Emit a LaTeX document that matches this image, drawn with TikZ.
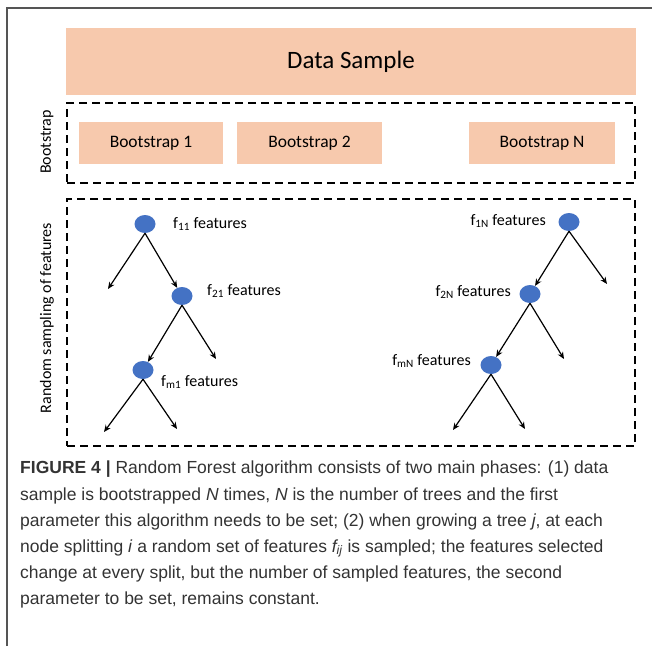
\documentclass[tikz,border=0pt]{standalone}
\usepackage{fontspec}
\setmainfont{Carlito}
\newfontfamily\capfont{Liberation Sans}
\usetikzlibrary{arrows.meta,shapes.geometric}
\definecolor{peach}{HTML}{F7C9AD}
\definecolor{nodeblue}{HTML}{4472C4}
\definecolor{framegray}{HTML}{555555}
\definecolor{captext}{HTML}{333333}
\tikzset{
  peachbox/.style={fill=peach, draw=none, inner sep=0pt},
  phasebox/.style={draw=black, line width=1.8pt, dash pattern=on 8pt off 5pt, inner sep=0pt},
  treenode/.style={ellipse, fill=nodeblue, draw=none, minimum width=21pt, minimum height=18pt, inner sep=0pt},
  branch/.style={line width=1.2pt, -{Stealth[length=7pt,width=6pt]}},
  featlabel/.style={font=\fontsize{16}{18}\selectfont, inner sep=0pt},
  sidelabel/.style={font=\fontsize{16}{18}\selectfont, rotate=90, inner sep=0pt},
  bootlabel/.style={font=\fontsize{17.5}{20}\selectfont},
  capline/.style={anchor=base west, inner sep=0pt, text=captext, font=\capfont\fontsize{17.5}{20}\selectfont},
}
\begin{document}
\begin{tikzpicture}[x=1pt, y=-1pt]
\useasboundingbox (0,0) rectangle (652,646);

% outer frame (top and left rules)
\draw[framegray, line width=1.5pt] (7,646) -- (7,8) -- (652,8);

% data sample
\node[peachbox, minimum width=570pt, minimum height=67pt, font=\fontsize{25}{29}\selectfont]
  (data) at (351,61.5) {Data Sample};

% bootstrap phase
\node[phasebox, minimum width=568pt, minimum height=80pt] (bootframe) at (351,143) {};
\node[sidelabel] (bootlbl) at (47,142) {Bootstrap};
\node[peachbox, bootlabel, minimum width=144pt, minimum height=42pt] (b1) at (151,143) {Bootstrap 1};
\node[peachbox, bootlabel, minimum width=145pt, minimum height=42pt] (b2) at (309.5,143) {Bootstrap 2};
\node[peachbox, bootlabel, minimum width=146pt, minimum height=42pt] (bN) at (542,143) {Bootstrap N};

% feature sampling phase
\node[phasebox, minimum width=568pt, minimum height=247pt] (randframe) at (351,322.5) {};
\node[sidelabel] (randlbl) at (47,318) {Random sampling of features};

% first tree
\node[treenode] (n11) at (145,224) {};
\node[treenode] (n21) at (182,296) {};
\node[treenode] (nm1) at (143,370) {};
\node[featlabel, anchor=west] (t11) at (173,224) {f\textsubscript{11} features};
\node[featlabel, anchor=west] (t21) at (207,291) {f\textsubscript{21} features};
\node[featlabel, anchor=west] (tm1) at (161,382) {f\textsubscript{m1} features};
\coordinate (l11) at (108,289);
\coordinate (r21) at (216,359);
\coordinate (lm1) at (104,432);
\coordinate (rm1) at (177,429);
\draw[branch] (n11.south) -- (l11);
\draw[branch] (n11.south) -- (n21);
\draw[branch] (n21.south) -- (nm1);
\draw[branch] (n21.south) -- (r21);
\draw[branch] (nm1.south) -- (lm1);
\draw[branch] (nm1.south) -- (rm1);

% last tree
\node[treenode] (n1N) at (569,222) {};
\node[treenode] (n2N) at (530,294) {};
\node[treenode] (nmN) at (491,365) {};
\node[featlabel, anchor=east] (t1N) at (546,221) {f\textsubscript{1N} features};
\node[featlabel, anchor=east] (t2N) at (511,292) {f\textsubscript{2N} features};
\node[featlabel, anchor=east] (tmN) at (471,361) {f\textsubscript{mN} features};
\coordinate (r1N) at (607,284);
\coordinate (r2N) at (564,359);
\coordinate (lmN) at (453,430);
\coordinate (rmN) at (525,429);
\draw[branch] (n1N.south) -- (n2N);
\draw[branch] (n1N.south) -- (r1N);
\draw[branch] (n2N.south) -- (nmN);
\draw[branch] (n2N.south) -- (r2N);
\draw[branch] (nmN.south) -- (lmN);
\draw[branch] (nmN.south) -- (rmN);

% caption
\node[capline] (cap1) at (20,473) {\textbf{FIGURE 4 |} Random Forest algorithm consists of two main phases: (1) data};
\node[capline] (cap2) at (20,500) {sample is bootstrapped \textit{N} times, \textit{N} is the number of trees and the first};
\node[capline] (cap3) at (20,526) {parameter this algorithm needs to be set; (2) when growing a tree \textit{j}, at each};
\node[capline] (cap4) at (20,552) {node splitting \textit{i} a random set of features \textit{f\textsubscript{ij}} is sampled; the features selected};
\node[capline] (cap5) at (20,578) {change at every split, but the number of sampled features, the second};
\node[capline] (cap6) at (20,604) {parameter to be set, remains constant.};
\end{tikzpicture}
\end{document}
